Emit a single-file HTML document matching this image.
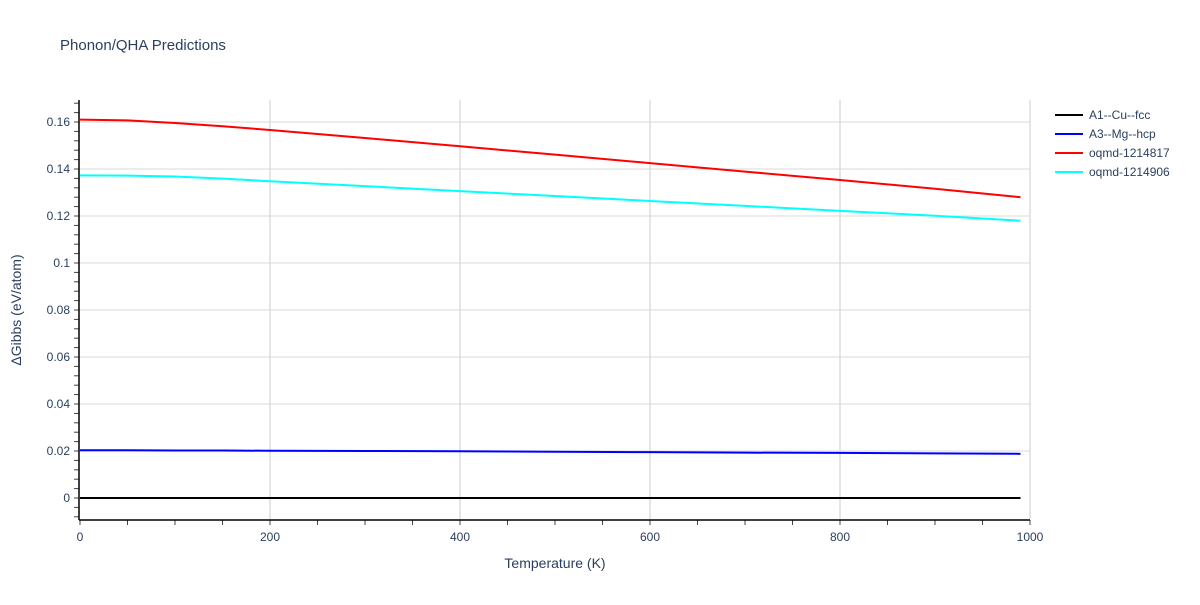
<!DOCTYPE html>
<html><head><meta charset="utf-8"><style>body{margin:0;background:#fff}svg{font-family:"Liberation Sans",sans-serif}</style></head>
<body>
<svg id="c" width="1200" height="600">
<text x="60" y="50" font-size="15" fill="#2a3f5f">Phonon/QHA Predictions</text>
<g id="grid"></g><g id="axes"></g><g id="series"></g><g id="legend"></g>
<text x="555" y="568" font-size="14" fill="#2a3f5f" text-anchor="middle">Temperature (K)</text>
<text transform="translate(21,310) rotate(-90)" font-size="14" fill="#2a3f5f" text-anchor="middle">ΔGibbs (eV/atom)</text>
</svg>
<script>
const temps=[0,50,100,150,200,300,400,500,600,700,800,900,990];
const fccVals=[0,0,0,0,0,0,0,0,0,0,0,0,0];
const hcpVals=[0.0203,0.0203,0.0202,0.0202,0.0201,0.0200,0.0199,0.0197,0.0195,0.0193,0.0192,0.0190,0.0188];
const o817Vals=[0.1610,0.1607,0.1596,0.1582,0.1566,0.1532,0.1497,0.1461,0.1425,0.1389,0.1353,0.1316,0.1280];
const o906Vals=[0.1373,0.1372,0.1368,0.1359,0.1348,0.1327,0.1306,0.1285,0.1264,0.1243,0.1222,0.1201,0.1180];
const seriesNames=["A1--Cu--fcc","A3--Mg--hcp","oqmd-1214817","oqmd-1214906"];
const seriesColors=["#000000","#0000ff","#ff0000","#00ffff"];
const xTicks=[0,200,400,600,800,1000];
const yTicks=[0,0.02,0.04,0.06,0.08,0.1,0.12,0.14,0.16];
const yTickLabels=["0","0.02","0.04","0.06","0.08","0.1","0.12","0.14","0.16"];
const NS="http://www.w3.org/2000/svg";
const X=v=>80+v*0.95, Y=v=>498-v*2350;
function mk(p,t,a){const e=document.createElementNS(NS,t);for(const k in a)e.setAttribute(k,a[k]);p.appendChild(e);return e;}
const g=document.getElementById('grid'),ax=document.getElementById('axes'),s=document.getElementById('series'),lg=document.getElementById('legend');
xTicks.forEach(t=>{if(t>0){const l=mk(g,'line',{x1:X(t),x2:X(t),y1:100,y2:519,stroke:'#e5e5e5','stroke-width':2});

}
const tx=mk(ax,'text',{x:X(t),y:541,'font-size':12,fill:'#2a3f5f','text-anchor':'middle'});tx.textContent=t;

});
yTicks.forEach((t,i)=>{if(t>0){const l=mk(g,'line',{x1:80,x2:1030,y1:Y(t),y2:Y(t),stroke:'#d9d9d9','stroke-width':1});

}
const tx=mk(ax,'text',{x:70,y:Y(t)+4,'font-size':12,fill:'#2a3f5f','text-anchor':'end'});tx.textContent=yTickLabels[i];

});
for(let v=-0.008;v<=0.169;v+=0.004){mk(ax,'line',{x1:74,x2:79,y1:Y(v),y2:Y(v),stroke:'#444','stroke-width':1});}
for(let v=0;v<=1000;v+=50){mk(ax,'line',{x1:X(v),x2:X(v),y1:520,y2:525,stroke:'#444','stroke-width':1});}
mk(ax,'line',{x1:79,x2:79,y1:100,y2:520,stroke:'#000','stroke-width':1.5});
mk(ax,'line',{x1:79,x2:1030,y1:520,y2:520,stroke:'#000','stroke-width':1.5});
[fccVals,hcpVals,o817Vals,o906Vals].forEach((vals,i)=>{
const p=mk(s,'polyline',{points:temps.map((t,j)=>X(t)+','+Y(vals[j])).join(' '),fill:'none',stroke:seriesColors[i],'stroke-width':2});


const y=115+i*19;
const gl=mk(lg,'g',{});


mk(gl,'line',{x1:1055,x2:1083,y1:y,y2:y,stroke:seriesColors[i],'stroke-width':2});
const tx=mk(gl,'text',{x:1089,y:y+4,'font-size':12,fill:'#2a3f5f'});tx.textContent=seriesNames[i];});
</script>
</body></html>
